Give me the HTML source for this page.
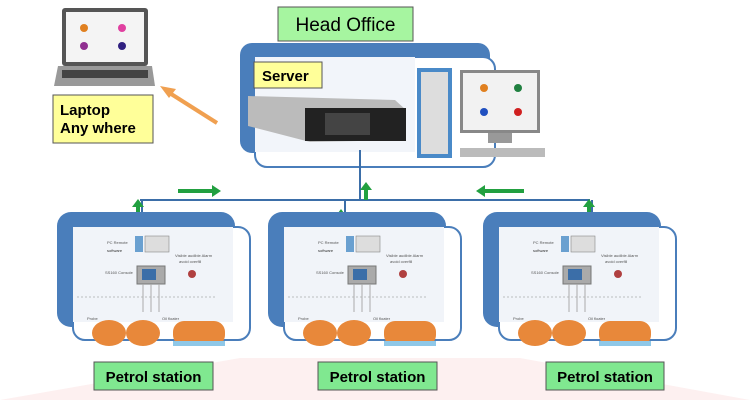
<!DOCTYPE html>
<html><head><style>
body{margin:0;background:#fff;}
svg{display:block;font-family:"Liberation Sans",sans-serif;}
</style></head><body>
<svg width="750" height="400" viewBox="0 0 750 400">
<defs>
<g id="st">
  <rect x="0" y="0" width="178" height="115" rx="14" fill="#4a7ebb"/>
  <rect x="16" y="15" width="177" height="113" rx="12" fill="#fff" stroke="#4a7ebb" stroke-width="2"/>
  <rect x="16" y="15" width="160" height="95" fill="#f1f4f9"/>
  <text x="50" y="32" font-size="4" fill="#555">PC Remote</text>
  <text x="50" y="40" font-size="4" fill="#333">software</text>
  <rect x="78" y="24" width="8" height="16" fill="#6aa0d0"/>
  <rect x="88" y="24" width="24" height="16" fill="#ddd" stroke="#888" stroke-width="0.6"/>
  <text x="48" y="62" font-size="4" fill="#555">SS160 Console</text>
  <rect x="80" y="54" width="28" height="18" fill="#aaa" stroke="#777"/>
  <rect x="85" y="57" width="14" height="11" fill="#3b6ea8"/>
  <text x="118" y="45" font-size="4" fill="#555">Visible audible Alarm</text>
  <text x="122" y="51" font-size="4" fill="#555">avoid overfill</text>
  <circle cx="135" cy="62" r="4" fill="#b04040"/>
  <line x1="20" y1="85" x2="160" y2="85" stroke="#888" stroke-width="0.6" stroke-dasharray="2,2"/>
  <line x1="86" y1="72" x2="86" y2="100" stroke="#aaa"/>
  <line x1="94" y1="72" x2="94" y2="100" stroke="#aaa"/>
  <line x1="102" y1="72" x2="102" y2="100" stroke="#aaa"/>
  <ellipse cx="52" cy="121" rx="17" ry="13" fill="#e8883a"/>
  <ellipse cx="86" cy="121" rx="17" ry="13" fill="#e8883a"/>
  <rect x="116" y="109" width="52" height="25" rx="11" fill="#e8883a"/>
  <rect x="116" y="129" width="52" height="5" fill="#8fc8e8"/>
  <text x="30" y="108" font-size="4" fill="#555">Probe</text>
  <text x="105" y="108" font-size="4" fill="#555">Oil floater</text>
</g>
</defs>
<polygon points="0,400 240,358 520,358 750,400" fill="#fdf0f0"/>
<!-- laptop -->
<rect x="62" y="8" width="86" height="58" rx="3" fill="#555"/>
<rect x="66" y="12" width="78" height="50" fill="#f4f4f4"/>
<circle cx="84" cy="28" r="4" fill="#e08020"/><circle cx="122" cy="28" r="4" fill="#e040a0"/>
<circle cx="84" cy="46" r="4" fill="#903090"/><circle cx="122" cy="46" r="4" fill="#302080"/>
<polygon points="58,66 152,66 155,86 54,86" fill="#999"/>
<rect x="62" y="70" width="86" height="8" fill="#444"/>
<rect x="53" y="95" width="100" height="48" fill="#ffff99" stroke="#555"/>
<text x="60" y="115" font-size="15" font-weight="bold">Laptop</text>
<text x="60" y="133" font-size="15" font-weight="bold">Any where</text>
<line x1="217" y1="123" x2="168" y2="92" stroke="#f0a050" stroke-width="4"/>
<polygon points="160,86 176,89 169,98" fill="#f0a050"/>
<!-- head office -->
<rect x="240" y="43" width="250" height="110" rx="12" fill="#4a7ebb"/>
<rect x="255" y="57" width="240" height="110" rx="12" fill="#fff" stroke="#4a7ebb" stroke-width="2"/>
<rect x="255" y="57" width="160" height="95" fill="#f2f5fa"/>
<rect x="278" y="7" width="135" height="34" fill="#a6f5a0" stroke="#555"/>
<text x="345.5" y="31" font-size="19" text-anchor="middle">Head Office</text>
<rect x="254" y="62" width="68" height="26" fill="#ffff99" stroke="#555"/>
<text x="262" y="81" font-size="15" font-weight="bold">Server</text>
<polygon points="248,96 395,100 406,110 406,140 310,142 248,126" fill="#bbb"/>
<rect x="305" y="108" width="101" height="33" fill="#222"/>
<rect x="325" y="113" width="45" height="22" fill="#444"/>
<rect x="417" y="68" width="35" height="90" fill="#4a8ac8"/>
<rect x="421" y="72" width="27" height="82" fill="#ddd"/>
<rect x="460" y="70" width="80" height="63" fill="#888"/>
<rect x="463" y="73" width="74" height="57" fill="#f2f2f2"/>
<circle cx="484" cy="88" r="4" fill="#e08020"/><circle cx="518" cy="88" r="4" fill="#208040"/>
<circle cx="484" cy="112" r="4" fill="#2050c0"/><circle cx="518" cy="112" r="4" fill="#d02020"/>
<rect x="488" y="133" width="24" height="10" fill="#999"/>
<rect x="460" y="148" width="85" height="9" fill="#bbb"/>
<!-- connectors -->
<line x1="360" y1="150" x2="360" y2="200" stroke="#3b6ea8" stroke-width="2"/>
<line x1="140" y1="200" x2="590" y2="200" stroke="#3b6ea8" stroke-width="2"/>
<line x1="142" y1="200" x2="142" y2="215" stroke="#3b6ea8" stroke-width="2"/>
<line x1="345" y1="200" x2="345" y2="228" stroke="#3b6ea8" stroke-width="2"/>
<line x1="592" y1="200" x2="592" y2="215" stroke="#3b6ea8" stroke-width="2"/>
<g fill="#22a040">
<rect x="178" y="189" width="35" height="4"/><polygon points="212,185 221,191 212,197"/>
<rect x="484" y="189" width="40" height="4"/><polygon points="485,185 476,191 485,197"/>
<rect x="364" y="188" width="4" height="12"/><polygon points="360,190 366,182 372,190"/>
<rect x="136" y="205" width="4" height="11"/><polygon points="132,207 138,199 144,207"/>
<rect x="339" y="215" width="4" height="12"/><polygon points="335,217 341,209 347,217"/>
<rect x="587" y="205" width="4" height="11"/><polygon points="583,207 589,199 595,207"/>
</g>
<use href="#st" x="57" y="212"/>
<use href="#st" x="268" y="212"/>
<use href="#st" x="483" y="212"/>
<g font-size="15" font-weight="bold" text-anchor="middle">
<rect x="94" y="362" width="119" height="28" fill="#80e890" stroke="#555"/>
<text x="153.5" y="382">Petrol station</text>
<rect x="318" y="362" width="119" height="28" fill="#80e890" stroke="#555"/>
<text x="377.5" y="382">Petrol station</text>
<rect x="546" y="362" width="118" height="28" fill="#80e890" stroke="#555"/>
<text x="605" y="382">Petrol station</text>
</g>
</svg>
</body></html>
